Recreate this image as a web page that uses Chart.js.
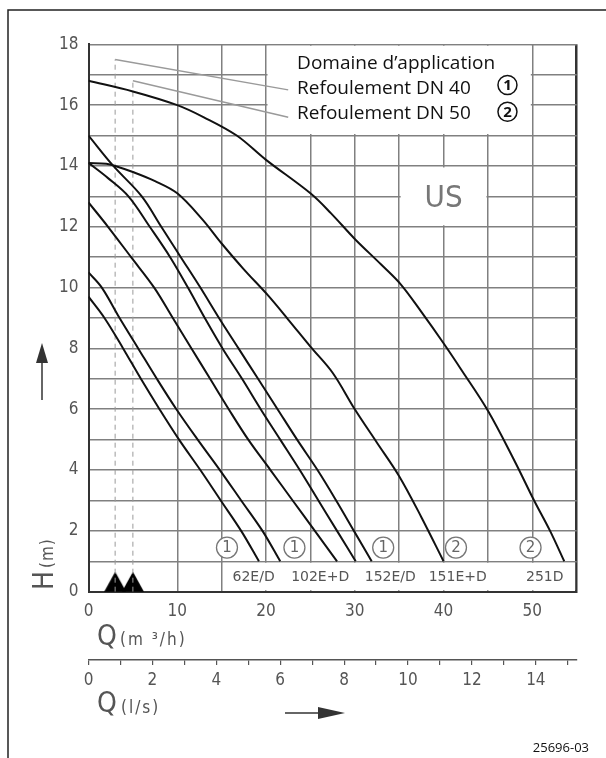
<!DOCTYPE html>
<html>
<head>
<meta charset="utf-8">
<script src="https://cdn.jsdelivr.net/npm/chart.js@4"></script>
<style>
  html, body { margin: 0; padding: 0; background: #fff; }
  canvas { display: block; }
</style>
</head>
<body>
<canvas id="pumpChart" width="606" height="758"></canvas>
<script>
// pump curves, Q in m3/h and H in m
const q62a = [0, 1.8, 3.9, 5.9, 8.0, 10.2, 12.6, 14.9, 17.2, 19.2];
const h62a = [9.7, 9, 8, 7, 6, 5, 4, 3, 2, 1];
const q62b = [0, 1.5, 3.5, 5.6, 7.7, 9.9, 12.3, 14.8, 17.2, 19.6, 21.6];
const h62b = [10.5, 10, 9, 8, 7, 6, 5, 4, 3, 2, 1];
const q102a = [0, 2.2, 4.8, 7.4, 9.5, 11.6, 13.7, 15.8, 18.0, 20.5, 23.0, 25.5, 28.0];
const h102a = [12.8, 12, 11, 10, 9, 8, 7, 6, 5, 4, 3, 2, 1];
const q102b = [0, 2.2, 4.5, 6.9, 9.2, 11.2, 13.1, 15.1, 17.3, 19.4, 21.6, 23.8, 25.9, 28.0, 30.1];
const h102b = [14.1, 13.6, 13, 12, 11, 10, 9, 8, 7, 6, 5, 4, 3, 2, 1];
const q152 = [0, 2.8, 6.0, 8.2, 10.4, 12.6, 14.7, 16.9, 19.1, 21.3, 23.5, 25.8, 27.9, 29.9, 31.9];
const h152 = [15, 14, 13, 12, 11, 10, 9, 8, 7, 6, 5, 4, 3, 2, 1];
const q151 = [0, 2, 3, 5, 7.5, 10, 12.8, 15, 17.5, 20.2, 22.5, 25, 27.5, 30, 32.5, 35, 37.5, 40];
const h151 = [14.1, 14.07, 14.0, 13.8, 13.5, 13.1, 12.25, 11.45, 10.6, 9.75, 8.95, 8.06, 7.2, 6.0, 4.9, 3.8, 2.45, 1.0];
const q251 = [0, 5, 10, 13, 16.7, 20, 25, 27.3, 30, 33, 35.2, 37.5, 40, 42, 45, 48, 50.2, 52, 53.6];
const h251 = [16.8, 16.45, 16.0, 15.6, 15.0, 14.2, 13.1, 12.45, 11.6, 10.75, 10.1, 9.2, 8.17, 7.3, 5.95, 4.3, 3.0, 2.0, 1.0];

// delivery pipe marks (1 = DN 40, 2 = DN 50)
const markQ = [15.6, 23.2, 33.2, 41.4, 49.8];
const markH = [1.45, 1.45, 1.45, 1.45, 1.45];
const markNo = ['1', '1', '1', '2', '2'];

const models = ['62E/D', '102E+D', '152E/D', '151E+D', '251D'];
const modelQ = [18.6, 26.1, 34.0, 41.6, 51.4];

// application range lines
const lead40Q = [3, 22.5];
const lead40H = [17.5, 16.5];
const lead50Q = [5, 22.5];
const lead50H = [16.8, 15.6];
const pumpMarkQ = [3, 5];

const legendLines = ['Domaine d’application', 'Refoulement DN 40', 'Refoulement DN 50'];

const qMax = 55;
const hMax = 18;
const lsFactor = 3.6; // m3/h per l/s

const techFont = "'Liberation Sans Narrow', 'DejaVu Sans Condensed', 'DejaVu Sans', sans-serif";
Chart.defaults.font.family = techFont;
Chart.defaults.color = '#555';

function pts(qs, hs) {
  return qs.map((q, i) => ({ x: q, y: hs[i] }));
}

function curve(label, qs, hs) {
  return {
    label: label,
    data: pts(qs, hs),
    borderColor: '#111',
    borderWidth: 2,
    pointRadius: 0,
    tension: 0.35
  };
}

// triangle image whose centre is the middle of its base
const tri = document.createElement('canvas');
tri.width = 22;
tri.height = 40;
const tctx = tri.getContext('2d');
tctx.fillStyle = '#000';
tctx.beginPath();
tctx.moveTo(11, 0);
tctx.lineTo(22, 20);
tctx.lineTo(0, 20);
tctx.closePath();
tctx.fill();

const decor = {
  id: 'decor',
  beforeDatasetsDraw(chart) {
    const { ctx, scales: { x, y } } = chart;
    ctx.save();
    ctx.fillStyle = '#fff';
    // blank fields of the grid: legend, type label, model strip
    [[20, 50, 15, 18], [35, 45, 12, 14], [15, 55, 0, 1]].forEach(b => {
      const l = x.getPixelForValue(b[0]) + 1.5;
      const r = x.getPixelForValue(b[1]) - 1.5;
      const t = y.getPixelForValue(b[3]) + 1.5;
      const bt = y.getPixelForValue(b[2]) - 1.5;
      ctx.fillRect(l, t, r - l, bt - t);
    });
    ctx.restore();
  },
  afterDraw(chart) {
    const { ctx, chartArea, scales: { x, y } } = chart;
    ctx.save();

    // legend
    const lx = x.getPixelForValue(23.5);
    ctx.fillStyle = '#111';
    ctx.font = "19px 'Open Sans', sans-serif";
    ctx.textBaseline = 'alphabetic';
    ctx.textAlign = 'left';
    ctx.fillText(legendLines[0], lx, chartArea.top + 25);
    ctx.fillText(legendLines[1], lx, chartArea.top + 49.7);
    ctx.fillText(legendLines[2], lx, chartArea.top + 75);
    const cx = x.getPixelForValue(47.2);
    [['1', chartArea.top + 40.7], ['2', chartArea.top + 67.4]].forEach(c => {
      ctx.beginPath();
      ctx.arc(cx, c[1], 9.5, 0, Math.PI * 2);
      ctx.lineWidth = 1.5;
      ctx.strokeStyle = '#111';
      ctx.stroke();
      ctx.font = "bold 15px 'Open Sans', sans-serif";
      ctx.textAlign = 'center';
      ctx.textBaseline = 'middle';
      ctx.fillText(c[0], cx, c[1] + 1);
    });

    // type label
    ctx.fillStyle = '#777';
    ctx.font = '31px ' + techFont;
    ctx.textAlign = 'center';
    ctx.textBaseline = 'alphabetic';
    ctx.fillText('US', x.getPixelForValue(40), y.getPixelForValue(13) + 11);

    // model names and pipe marks
    ctx.fillStyle = '#555';
    ctx.font = "14px 'DejaVu Sans', sans-serif";
    ctx.textBaseline = 'middle';
    models.forEach((m, i) => {
      ctx.fillText(m, x.getPixelForValue(modelQ[i]), y.getPixelForValue(0.5) + 1);
    });
    ctx.fillStyle = '#666';
    ctx.font = "15px 'DejaVu Sans', sans-serif";
    markNo.forEach((n, i) => {
      ctx.fillText(n, x.getPixelForValue(markQ[i]), y.getPixelForValue(markH[i]) + 1);
    });

    // axis titles
    ctx.fillStyle = '#555';
    ctx.textAlign = 'left';
    ctx.textBaseline = 'alphabetic';
    ctx.font = '28px ' + techFont;
    ctx.fillText('Q', 97, 645);
    ctx.fillText('Q', 97, 712);
    ctx.font = '17px ' + techFont;
    ctx.letterSpacing = '2px';
    ctx.fillText('(m ³/h)', 120, 645);
    ctx.fillText('(l/s)', 121, 713);
    ctx.letterSpacing = '0px';

    ctx.save();
    ctx.translate(53, 590);
    ctx.rotate(-Math.PI / 2);
    ctx.font = '28px ' + techFont;
    ctx.fillText('H', 0, 0);
    ctx.font = '17px ' + techFont;
    ctx.letterSpacing = '1px';
    ctx.fillText('(m)', 22, 0);
    ctx.restore();

    // arrows
    ctx.fillStyle = '#333';
    ctx.strokeStyle = '#333';
    ctx.lineWidth = 1.5;
    ctx.beginPath();
    ctx.moveTo(42, 362);
    ctx.lineTo(42, 400);
    ctx.stroke();
    ctx.beginPath();
    ctx.moveTo(42, 343);
    ctx.lineTo(48, 363);
    ctx.lineTo(36, 363);
    ctx.closePath();
    ctx.fill();
    ctx.beginPath();
    ctx.moveTo(285, 713);
    ctx.lineTo(320, 713);
    ctx.stroke();
    ctx.beginPath();
    ctx.moveTo(345, 713);
    ctx.lineTo(318, 707);
    ctx.lineTo(318, 719);
    ctx.closePath();
    ctx.fill();

    // frame and drawing number
    ctx.strokeStyle = '#222';
    ctx.lineWidth = 1.5;
    ctx.beginPath();
    ctx.moveTo(8, 758);
    ctx.lineTo(8, 10);
    ctx.lineTo(606, 10);
    ctx.stroke();
    ctx.fillStyle = '#111';
    ctx.font = "13px 'Open Sans', sans-serif";
    ctx.textAlign = 'right';
    ctx.fillText('25696-03', 589, 752);

    ctx.restore();
  }
};

new Chart(document.getElementById('pumpChart'), {
  type: 'line',
  data: {
    datasets: [
      curve('62E/D', q62a, h62a),
      curve('62E/D', q62b, h62b),
      curve('102E+D', q102a, h102a),
      curve('102E+D', q102b, h102b),
      curve('152E/D', q152, h152),
      curve('151E+D', q151, h151),
      curve('251D', q251, h251),
      {
        label: 'DN 40',
        data: pts(lead40Q, lead40H),
        borderColor: '#9a9a9a',
        borderWidth: 1.4,
        pointRadius: 0,
        clip: false
      },
      {
        label: 'DN 50',
        data: pts(lead50Q, lead50H),
        borderColor: '#9a9a9a',
        borderWidth: 1.4,
        pointRadius: 0,
        clip: false
      },
      {
        label: 'range DN 40',
        data: [{ x: lead40Q[0], y: 0 }, { x: lead40Q[0], y: lead40H[0] }],
        borderColor: '#9a9a9a',
        borderWidth: 1,
        borderDash: [5, 4],
        pointRadius: 0
      },
      {
        label: 'range DN 50',
        data: [{ x: lead50Q[0], y: 0 }, { x: lead50Q[0], y: lead50H[0] }],
        borderColor: '#9a9a9a',
        borderWidth: 1,
        borderDash: [5, 4],
        pointRadius: 0
      },
      {
        label: 'pipe marks',
        data: pts(markQ, markH),
        showLine: false,
        pointRadius: 10.5,
        pointBackgroundColor: '#fff',
        pointBorderColor: '#777',
        pointBorderWidth: 1.3
      },
      {
        label: 'pump marks',
        data: pumpMarkQ.map(q => ({ x: q, y: 0 })),
        showLine: false,
        pointStyle: tri,
        clip: false
      }
    ]
  },
  options: {
    responsive: false,
    animation: false,
    devicePixelRatio: 1,
    layout: { padding: { left: 0, right: 29.3, top: 44.3, bottom: 38 } },
    plugins: {
      legend: { display: false },
      tooltip: { enabled: false }
    },
    scales: {
      x: {
        type: 'linear',
        min: 0,
        max: qMax,
        position: 'bottom',
        afterFit: s => { s.height = 68.3; },
        ticks: {
          stepSize: 5,
          padding: 10,
          maxRotation: 0,
          font: { size: 17 },
          callback: v => (v % 10 === 0 ? v : '')
        },
        grid: {
          drawTicks: false,
          color: c => (c.tick && c.tick.value === 5 ? 'rgba(0,0,0,0)' : c.tick && c.tick.value === qMax ? '#333' : '#808080'),
          lineWidth: c => (c.tick && c.tick.value === qMax ? 2.5 : 1.5)
        },
        border: { color: '#333', width: 2 }
      },
      x2: {
        type: 'linear',
        min: 0,
        max: qMax / lsFactor,
        position: 'bottom',
        weight: 1,
        afterFit: s => { s.height = 60; },
        ticks: {
          stepSize: 1,
          includeBounds: false,
          padding: 5,
          maxRotation: 0,
          font: { size: 17 },
          callback: v => (v % 2 === 0 ? v : '')
        },
        grid: {
          drawOnChartArea: false,
          drawTicks: true,
          tickLength: 5,
          color: '#555',
          lineWidth: 1.2
        },
        border: { display: true, color: '#555', width: 1.5 }
      },
      y: {
        type: 'linear',
        min: 0,
        max: hMax,
        afterFit: s => { s.width = 88.5; },
        ticks: {
          stepSize: 1,
          padding: 10,
          font: { size: 17 },
          callback: v => (v % 2 === 0 ? v : '')
        },
        grid: {
          drawTicks: false,
          color: '#808080',
          lineWidth: 1.5
        },
        border: { color: '#333', width: 2 }
      }
    }
  },
  plugins: [decor]
});
</script>
</body>
</html>
